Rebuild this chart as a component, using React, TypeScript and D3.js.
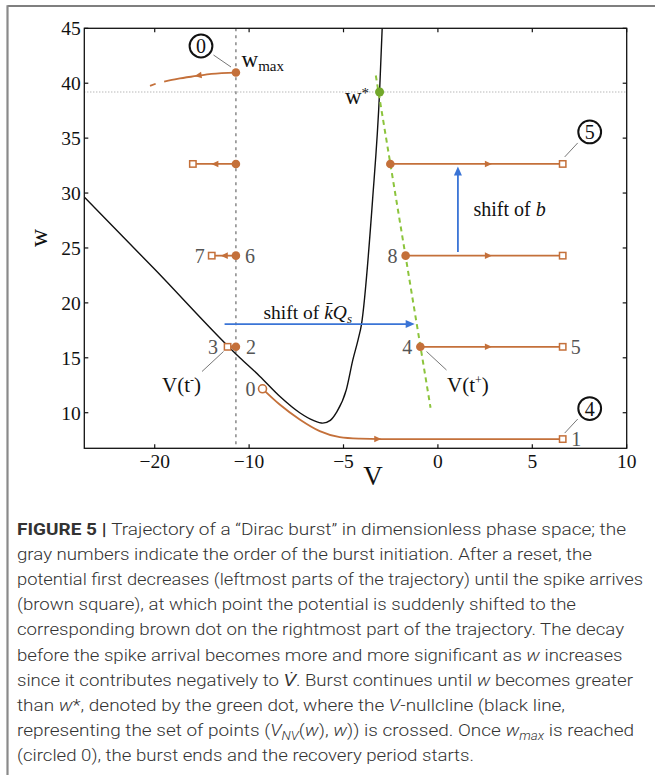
import * as d3 from "d3";

// axis ticks (the picture labels the first tick "−20")
const X_TICKS = [-15, -10, -5, 0, 5, 10];
const X_TICK_LABELS = ["−20", "−10", "−5", "0", "5", "10"];
const Y_TICKS = [10, 15, 20, 25, 30, 35, 40, 45];

// V-nullcline (black line)
const NULL_V = [-19, -15, -10.49, -9.44, -8.38, -7.32, -6.6, -6.1, -5.7, -5.38, -4.85, -4.5, -4.22, -4.05, -3.46, -3.09, -2.94];
const NULL_W = [30.1, 23.06, 15.0, 13.33, 11.5, 10.0, 9.3, 9.05, 9.3, 10.0, 12.1, 14.85, 16.7, 18.03, 29.4, 39.2, 45.5];

// green dashed line through the reset points
const GREEN_V = [-3.29, -0.39];
const GREEN_W = [40.7, 10.45];
const W_STAR = 39.2;
const W_STAR_V = -3.09;

// first trajectory piece (open circle "0" to square "1")
const START_V = [-9.29, -8.38, -7.32, -6.26, -5.2, -4.14, -3.0, 6.61];
const START_W = [12.18, 10.75, 9.39, 8.33, 7.78, 7.64, 7.6, 7.6];

// last piece after w_max (solid part + short dash)
const END_V = [-14.5, -13.8, -12.78, -12.0, -10.7];
const END_W = [40.15, 40.4, 40.66, 40.85, 40.97];
const END_DASH_V = [-15.25, -14.95];
const END_DASH_W = [39.75, 39.95];

// reset rows
const RESET_V = -10.7;
const ROW_W = [32.65, 24.3, 16.0];
const ROW_LEFT_END_V = [-12.98, -11.98, -11.14];
const ROW_RIGHT_START_V = [-2.52, -1.71, -0.93];
const ROW_RIGHT_END_V = 6.61;
const RIGHT_ARROW_V = 2.7;

// blue shift arrows
const SHIFT_B_V = 1.06;
const SHIFT_B_W = [24.64, 32.42];
const SHIFT_K_W = 18.07;
const SHIFT_K_V = [-11.3, -1.23];

const CAPTION_LINES: [string, string][][] = [
  [["FIGURE 5 | ", "b"], ["Trajectory of a “Dirac burst” in dimensionless phase space; the", "n"]],
  [["gray numbers indicate the order of the burst initiation. After a reset, the", "n"]],
  [["potential first decreases (leftmost parts of the trajectory) until the spike arrives", "n"]],
  [["(brown square), at which point the potential is suddenly shifted to the", "n"]],
  [["corresponding brown dot on the rightmost part of the trajectory. The decay", "n"]],
  [["before the spike arrival becomes more and more significant as ", "n"], ["w", "i"], [" increases", "n"]],
  [["since it contributes negatively to ", "n"], ["V̇", "i"], [". Burst continues until ", "n"], ["w", "i"], [" becomes greater", "n"]],
  [["than ", "n"], ["w", "i"], ["*, denoted by the green dot, where the ", "n"], ["V", "i"], ["-nullcline (black line,", "n"]],
  [["representing the set of points (", "n"], ["V", "i"], ["NV", "sub"], ["(", "n"], ["w", "i"], ["), ", "n"], ["w", "i"], [")) is crossed. Once ", "n"], ["w", "i"], ["max", "sub"], [" is reached", "n"]],
  [["(circled 0), the burst ends and the recovery period starts.", "n"]],
];
const CAPTION_RIGHT = [626, 592, 643, 576, 624, 622.5, 633, 565, 634, 474];

const W = 655;
const H = 775;
const M = { left: 84.3, right: 626.7, top: 28.3, bottom: 448.3 };

const BROWN = "#c4703a";
const BLUE = "#3a74d6";
const GREEN = "#8cc43c";
const GREEN_DOT = "#72a82a";
const SERIF = "'Liberation Serif', 'Times New Roman', serif";
const SANS = "Roboto, 'Liberation Sans', sans-serif";

const x = d3.scaleLinear().domain([-18.73, 10]).range([M.left, M.right]);
const y = d3.scaleLinear().domain([6.76, 45]).range([M.bottom, M.top]);

type Pt = [number, number];
const zip = (vs: number[], ws: number[]): Pt[] => vs.map((v, i) => [v, ws[i]]);

const curve = d3
  .line<Pt>()
  .x((d) => x(d[0]))
  .y((d) => y(d[1]))
  .curve(d3.curveMonotoneX);

const straight = d3
  .line<Pt>()
  .x((d) => x(d[0]))
  .y((d) => y(d[1]));

// little triangle head, tip at (px,py), pointing along angle (radians)
function arrowHead(px: number, py: number, angle: number, len = 7, half = 3.3) {
  const c = Math.cos(angle);
  const s = Math.sin(angle);
  const bx = px - c * len;
  const by = py - s * len;
  return `M${px},${py}L${bx - s * half},${by + c * half}L${bx + s * half},${by - c * half}Z`;
}

function Square({ v, w }: { v: number; w: number }) {
  return (
    <rect x={x(v) - 3.2} y={y(w) - 3.2} width={6.4} height={6.4} fill="white" stroke={BROWN} strokeWidth={1.5} />
  );
}

function Dot({ v, w }: { v: number; w: number }) {
  return <circle cx={x(v)} cy={y(w)} r={4.3} fill={BROWN} />;
}

function GrayNum({ v, w, dx, text }: { v: number; w: number; dx: number; text: string }) {
  return (
    <text x={x(v) + dx} y={y(w)} dy="0.35em" textAnchor="middle" fontFamily={SERIF} fontSize={20} fill="#555">
      {text}
    </text>
  );
}

function Circled({ cx, cy, text }: { cx: number; cy: number; text: string }) {
  return (
    <g>
      <circle cx={cx} cy={cy} r={11.4} fill="white" stroke="#111" strokeWidth={2} />
      <text x={cx} y={cy} dy="0.35em" textAnchor="middle" fontFamily={SERIF} fontSize={20} fill="#111">
        {text}
      </text>
    </g>
  );
}

function Leader({ x1, y1, x2, y2 }: { x1: number; y1: number; x2: number; y2: number }) {
  return <line x1={x1} y1={y1} x2={x2} y2={y2} stroke="#777" strokeWidth={1} />;
}

export default function App() {
  const resetX = x(RESET_V);
  const rightEndX = x(ROW_RIGHT_END_V);

  // end piece arrow angle
  const eA: Pt = [x(-12.0), y(40.85)];
  const eB: Pt = [x(-13.8), y(40.4)];
  const endAngle = Math.atan2(eB[1] - eA[1], eB[0] - eA[0]);

  const sq1Y = y(START_W[START_W.length - 1]);
  const sq5Y = y(ROW_W[0]);

  return (
    <svg width={W} height={H} style={{ position: "absolute", left: 0, top: 0, background: "white" }}>
      <defs>
        <clipPath id="plot">
          <rect x={M.left} y={M.top} width={M.right - M.left} height={M.bottom - M.top} />
        </clipPath>
      </defs>

      {/* page frame */}
      <line x1={7.5} y1={6} x2={W} y2={6} stroke="#555" strokeWidth={1.6} />
      <line x1={7.5} y1={5.2} x2={7.5} y2={H} stroke="#8a8a8a" strokeWidth={2.2} />

      {/* reference lines */}
      <line x1={M.left} x2={M.right} y1={y(W_STAR)} y2={y(W_STAR)} stroke="#999" strokeWidth={1} strokeDasharray="1,2" />
      <line x1={resetX} x2={resetX} y1={M.top} y2={M.bottom} stroke="#888" strokeWidth={1.5} strokeDasharray="3,4" />

      {/* nullcline */}
      <path d={curve(zip(NULL_V, NULL_W)) ?? ""} fill="none" stroke="#111" strokeWidth={1.4} clipPath="url(#plot)" />

      {/* green dashed line */}
      <path d={straight(zip(GREEN_V, GREEN_W)) ?? ""} fill="none" stroke={GREEN} strokeWidth={2} strokeDasharray="5,4" />

      {/* blue shift arrows */}
      <line x1={x(SHIFT_B_V)} x2={x(SHIFT_B_V)} y1={y(SHIFT_B_W[0])} y2={y(SHIFT_B_W[1]) + 8} stroke={BLUE} strokeWidth={1.8} />
      <path d={arrowHead(x(SHIFT_B_V), y(SHIFT_B_W[1]), -Math.PI / 2, 9, 4)} fill={BLUE} />
      <line x1={x(SHIFT_K_V[0])} x2={x(SHIFT_K_V[1]) - 8} y1={y(SHIFT_K_W)} y2={y(SHIFT_K_W)} stroke={BLUE} strokeWidth={1.8} />
      <path d={arrowHead(x(SHIFT_K_V[1]), y(SHIFT_K_W), 0, 9, 4)} fill={BLUE} />

      {/* first piece */}
      <path d={curve(zip(START_V, START_W)) ?? ""} fill="none" stroke={BROWN} strokeWidth={1.8} />
      <path d={arrowHead(x(-3.0), y(7.6), 0)} fill={BROWN} />
      <circle cx={x(START_V[0])} cy={y(START_W[0])} r={4} fill="white" stroke={BROWN} strokeWidth={1.6} />
      <Square v={START_V[START_V.length - 1]} w={START_W[START_W.length - 1]} />

      {/* reset rows */}
      {ROW_W.map((w, i) => {
        const lx = x(ROW_LEFT_END_V[i]);
        const yy = y(w);
        const midL = (resetX + lx) / 2;
        return (
          <g key={i}>
            <line x1={lx} x2={resetX} y1={yy} y2={yy} stroke={BROWN} strokeWidth={1.8} />
            <path d={arrowHead(midL - 3, yy, Math.PI)} fill={BROWN} />
            <Square v={ROW_LEFT_END_V[i]} w={w} />
            <Dot v={RESET_V} w={w} />
            <line x1={x(ROW_RIGHT_START_V[i])} x2={rightEndX} y1={yy} y2={yy} stroke={BROWN} strokeWidth={1.8} />
            <path d={arrowHead(x(RIGHT_ARROW_V) + 3, yy, 0)} fill={BROWN} />
            <Dot v={ROW_RIGHT_START_V[i]} w={w} />
            <Square v={ROW_RIGHT_END_V} w={w} />
          </g>
        );
      })}

      {/* last piece */}
      <path d={curve(zip(END_V, END_W)) ?? ""} fill="none" stroke={BROWN} strokeWidth={1.8} />
      <path d={curve(zip(END_DASH_V, END_DASH_W)) ?? ""} fill="none" stroke={BROWN} strokeWidth={1.8} />
      <path d={arrowHead(x(-12.78) - 2, y(40.66), endAngle)} fill={BROWN} />
      <Dot v={RESET_V} w={END_W[END_W.length - 1]} />

      {/* w* */}
      <circle cx={x(W_STAR_V)} cy={y(W_STAR)} r={4.5} fill={GREEN_DOT} />
      <text x={369} y={104} textAnchor="end" fontFamily={SERIF} fontSize={23} fill="#111">
        w<tspan dy={-6} fontSize={15}>*</tspan>
      </text>

      {/* w_max */}
      <text x={241.5} y={66.5} fontFamily={SERIF} fontSize={23} fill="#111">
        w<tspan dy={4} fontSize={15}>max</tspan>
      </text>
      <Leader x1={213.5} y1={55} x2={231} y2={67} />
      <Circled cx={201} cy={46} text="0" />

      <Leader x1={x(ROW_RIGHT_END_V) + 15} y1={sq5Y - 21} x2={x(ROW_RIGHT_END_V) + 2} y2={sq5Y - 7} />
      <Circled cx={x(ROW_RIGHT_END_V) + 27} cy={sq5Y - 32} text="5" />
      <Leader x1={x(ROW_RIGHT_END_V) + 15} y1={sq1Y - 20} x2={x(ROW_RIGHT_END_V) + 2} y2={sq1Y - 6} />
      <Circled cx={x(ROW_RIGHT_END_V) + 27} cy={sq1Y - 30.5} text="4" />

      {/* gray order numbers */}
      <GrayNum v={ROW_LEFT_END_V[1]} w={ROW_W[1]} dx={-12} text="7" />
      <GrayNum v={RESET_V} w={ROW_W[1]} dx={14} text="6" />
      <GrayNum v={ROW_LEFT_END_V[2]} w={ROW_W[2]} dx={-14.5} text="3" />
      <GrayNum v={RESET_V} w={ROW_W[2]} dx={15} text="2" />
      <GrayNum v={START_V[0]} w={START_W[0]} dx={-12} text="0" />
      <GrayNum v={ROW_RIGHT_START_V[1]} w={ROW_W[1]} dx={-13} text="8" />
      <GrayNum v={ROW_RIGHT_START_V[2]} w={ROW_W[2]} dx={-13} text="4" />
      <GrayNum v={ROW_RIGHT_END_V} w={ROW_W[2]} dx={13} text="5" />
      <GrayNum v={START_V[START_V.length - 1]} w={START_W[START_W.length - 1]} dx={13.5} text="1" />

      {/* V(t-) / V(t+) */}
      <Leader x1={202} y1={371.5} x2={223.5} y2={351.5} />
      <text x={162} y={392} fontFamily={SERIF} fontSize={21} fill="#111">
        V(t<tspan dy={-8} fontSize={12}>-</tspan>
        <tspan dy={8}>)</tspan>
      </text>
      <Leader x1={426.5} y1={351.5} x2={446.5} y2={370} />
      <text x={447} y={392} fontFamily={SERIF} fontSize={21} fill="#111">
        V(t<tspan dy={-8} fontSize={12}>+</tspan>
        <tspan dy={8}>)</tspan>
      </text>

      {/* shift labels */}
      <text x={473.5} y={216} fontFamily={SERIF} fontSize={20} fill="#111">
        shift of <tspan fontStyle="italic">b</tspan>
      </text>
      <text x={263.5} y={318.5} fontFamily={SERIF} fontSize={19.5} fill="#111">
        shift of <tspan fontStyle="italic">k̄Q</tspan>
        <tspan dy={4} fontSize={13} fontStyle="italic">s</tspan>
      </text>

      {/* axes frame + ticks */}
      <rect x={M.left} y={M.top} width={M.right - M.left} height={M.bottom - M.top} fill="none" stroke="#111" strokeWidth={1.3} />
      {X_TICKS.map((t, i) => (
        <g key={"x" + t}>
          <line x1={x(t)} x2={x(t)} y1={M.bottom} y2={M.bottom - 4} stroke="#111" strokeWidth={1.2} />
          <line x1={x(t)} x2={x(t)} y1={M.top} y2={M.top + 4} stroke="#111" strokeWidth={1.2} />
          <text x={x(t)} y={467.5} textAnchor="middle" fontFamily={SERIF} fontSize={19.5} fill="#111">
            {X_TICK_LABELS[i]}
          </text>
        </g>
      ))}
      {Y_TICKS.map((t) => (
        <g key={"y" + t}>
          <line x1={M.left} x2={M.left + 4} y1={y(t)} y2={y(t)} stroke="#111" strokeWidth={1.2} />
          <line x1={M.right} x2={M.right - 4} y1={y(t)} y2={y(t)} stroke="#111" strokeWidth={1.2} />
          <text x={M.left - 3.5} y={y(t)} dy="0.35em" textAnchor="end" fontFamily={SERIF} fontSize={19.5} fill="#111">
            {t}
          </text>
        </g>
      ))}
      <text x={373} y={485} textAnchor="middle" fontFamily={SERIF} fontSize={27} fill="#111">
        V
      </text>
      <text transform="translate(47,238) rotate(-90)" textAnchor="middle" fontFamily={SERIF} fontSize={25} fill="#111">
        w
      </text>

      {/* caption */}
      {CAPTION_LINES.map((segs, i) => {
        const parts: any[] = [];
        let shifted = false;
        segs.forEach(([t, k], j) => {
          let dy = 0;
          if (k === "sub" && !shifted) {
            dy = 4;
            shifted = true;
          } else if (k !== "sub" && shifted) {
            dy = -4;
            shifted = false;
          }
          parts.push(
            <tspan
              key={j}
              dy={dy || undefined}
              fontWeight={k === "b" ? 700 : undefined}
              fontStyle={k === "i" || k === "sub" ? "italic" : undefined}
              fontSize={k === "sub" ? 12 : undefined}
            >
              {t}
            </tspan>
          );
        });
        return (
          <text
            key={i}
            x={17}
            y={535 + i * 25.1}
            fontFamily={SANS}
            fontWeight={300}
            fontSize={17}
            fill="#333"
            textLength={CAPTION_RIGHT[i] - 17}
            lengthAdjust="spacingAndGlyphs"
          >
            {parts}
          </text>
        );
      })}
    </svg>
  );
}
